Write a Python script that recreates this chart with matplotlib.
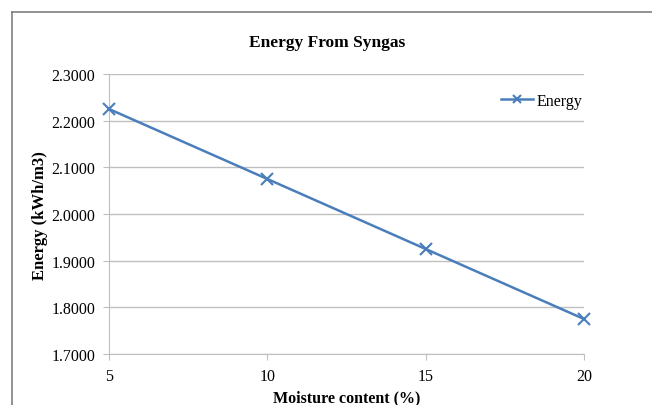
import matplotlib
matplotlib.use("Agg")
import matplotlib.pyplot as plt
from matplotlib.lines import Line2D

moisture = [5, 10, 15, 20]
energy = [2.225, 2.075, 1.925, 1.775]
yticks = [1.7, 1.8, 1.9, 2.0, 2.1, 2.2, 2.3]
xticks = [5, 10, 15, 20]

plt.rcParams['font.family'] = ['Liberation Serif', 'DejaVu Serif']

W, H = 652, 406
fig = plt.figure(figsize=(W/100, H/100), dpi=100)
ax = fig.add_axes([109/W, 1-355/H, (584-109)/W, (355-75)/H])

ax.plot(moisture, energy, color='#4A7EBB', lw=1.8, marker='x', ms=8, mew=1.5,
        label='Energy', clip_on=False, zorder=5)
ax.set_xlim(5, 20)
ax.set_ylim(1.7, 2.3)
ax.set_yticks(yticks)
ax.set_yticklabels([f"{v:.4f}" for v in yticks])
ax.set_xticks(xticks)
ax.grid(axis='y', color='#BFBFBF', lw=1)
ax.set_axisbelow(True)
for s in ['top', 'right']:
    ax.spines[s].set_visible(False)
for s in ['left', 'bottom']:
    ax.spines[s].set_color('#BFBFBF')
ax.tick_params(axis='both', colors='#BFBFBF', labelcolor='black', labelsize=11.5, length=4)
ax.tick_params(axis='y', pad=6)
ax.tick_params(axis='x', pad=6)

fig.text(327/W, 1-43/H, 'Energy From Syngas', ha='center', va='center', fontsize=12.5, fontweight='bold')
fig.text(347/W, 1-398/H, 'Moisture content (%)', ha='center', va='center', fontsize=11.5, fontweight='bold')
fig.text(40/W, 1-216/H, 'Energy (kWh/m3)', ha='center', va='center', rotation=90, fontsize=12, fontweight='bold')

ax.legend(loc='center right', bbox_to_anchor=(582/W, 1-102/H), bbox_transform=fig.transFigure,
          frameon=False, fontsize=11.5, handlelength=2.0, handletextpad=0.2, borderpad=0,
          borderaxespad=0, markerscale=0.8)

fig.add_artist(Line2D([12/W, 1], [1-13/H, 1-13/H], transform=fig.transFigure, color='#808080', lw=1.2))
fig.add_artist(Line2D([12/W, 12/W], [0, 1-13/H], transform=fig.transFigure, color='#808080', lw=1.2))

fig.savefig('out.png', dpi=100)
